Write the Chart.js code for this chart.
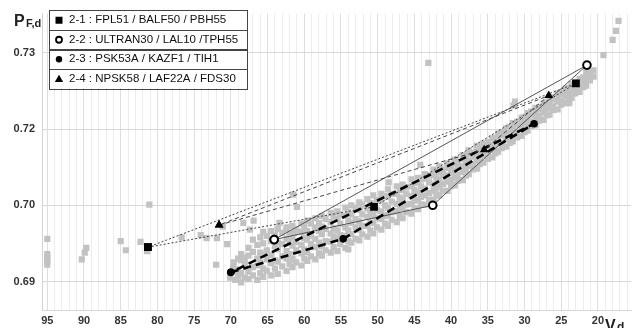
<!DOCTYPE html>
<html>
<head>
<meta charset="utf-8">
<script src="https://cdn.jsdelivr.net/npm/chart.js@4.4.1/dist/chart.umd.min.js"></script>
<style>
  html, body { margin: 0; padding: 0; background: #fff; }
</style>
</head>
<body>
<canvas id="chart" width="642" height="328"></canvas>
<script>
// ---- data ----
const groupNames = [
  '2-1 : FPL51 / BALF50 / PBH55',
  '2-2 : ULTRAN30 / LAL10 /TPH55',
  '2-3 : PSK53A / KAZF1 / TIH1',
  '2-4 : NPSK58 / LAF22A / FDS30'
];
const groupVd = [
  [81.3, 50.5, 23.0],
  [64.1, 42.5, 21.5],
  [70.0, 54.7, 28.7],
  [71.6, 35.5, 26.7]
];
const groupPF = [
  [0.6945, 0.6998, 0.7160],
  [0.6955, 0.7000, 0.7184],
  [0.6912, 0.6956, 0.7107],
  [0.6974, 0.7073, 0.7144]
];

// background glass map: one vd with the PF,d values seen above it
const grayVd = [
  95.0, 90.3, 89.9, 89.7, 85.0, 84.3, 82.3, 81.4, 81.1, 76.7, 74.1, 73.3,
  72.0, 71.9, 71.1, 70.5, 70.1, 69.7, 69.6, 68.3, 67.4, 66.9, 63.4, 62.4,
  61.3, 61.0, 61.5, 48.5, 44.2, 43.1, 31.3, 31.5, 23.9, 19.25, 18.0, 17.55, 17.2,
  69.4, 69.0, 68.6, 68.1, 67.6, 67.0, 66.4, 66.0, 65.6, 65.1, 64.5, 64.0,
  63.6, 63.0, 62.4, 62.0, 61.6, 61.1, 60.4, 60.0, 59.6, 59.1, 58.5, 58.0,
  57.6, 57.1, 56.4, 56.0, 55.5, 55.1, 54.4, 54.0, 53.6, 53.0, 52.5, 52.1,
  51.4, 51.0, 50.6, 50.1, 49.5, 49.0, 48.6, 48.1, 47.4, 47.0, 46.6, 46.1,
  45.4, 45.0, 44.5, 44.1, 43.6, 43.0, 42.4, 42.0, 41.6, 41.1, 40.5, 40.0,
  39.5, 39.1, 38.4, 38.0, 37.6, 37.0, 36.5, 36.1, 35.6, 35.0, 34.4, 34.0,
  33.6, 33.1, 32.5, 32.0, 31.6, 31.0, 30.4, 30.0, 29.6, 29.1, 28.5, 28.0,
  27.4, 27.0, 26.6, 26.1, 25.5, 25.0, 24.4, 24.0, 23.6, 23.1, 22.5, 22.0,
  21.6, 21.1, 20.6
];
const grayPF = [
  [0.6956, 0.6936, 0.6931, 0.6927, 0.6922], [0.6929], [0.6938], [0.6944], [0.6953], [0.6941],
  [0.6952], [0.6940], [0.7001], [0.6958], [0.6961], [0.6957],
  [0.6922], [0.6957], [0.6972], [0.6949], [0.6905], [0.6918], [0.6925], [0.6977], [0.6968], [0.6980],
  [0.6977], [0.6968], [0.6964], [0.6998], [0.7014], [0.7030], [0.7053], [0.7187],
  [0.7136], [0.7131], [0.7134], [0.7197], [0.7217], [0.7229], [0.7242],
  [0.6902, 0.6916], [0.6907, 0.6914, 0.6930], [0.6899, 0.6911, 0.6928, 0.6936],
  [0.6905, 0.6923, 0.6931], [0.6903, 0.6913, 0.6934, 0.6944], [0.6908, 0.6919, 0.6939, 0.6955],
  [0.6902, 0.6921, 0.6930, 0.6948], [0.6911, 0.6925, 0.6938, 0.6958], [0.6906, 0.6917, 0.6936, 0.6950, 0.6965],
  [0.6914, 0.6929, 0.6941, 0.6960], [0.6908, 0.6924, 0.6935, 0.6953, 0.6966], [0.6917, 0.6928, 0.6946, 0.6961],
  [0.6910, 0.6926, 0.6942, 0.6951, 0.6969], [0.6920, 0.6933, 0.6949, 0.6964], [0.6914, 0.6930, 0.6940, 0.6956, 0.6971],
  [0.6923, 0.6936, 0.6953, 0.6964], [0.6919, 0.6930, 0.6947, 0.6959, 0.6973], [0.6925, 0.6941, 0.6952, 0.6968],
  [0.6921, 0.6937, 0.6948, 0.6965, 0.6976], [0.6930, 0.6942, 0.6957, 0.6973], [0.6927, 0.6939, 0.6955, 0.6966, 0.6980],
  [0.6933, 0.6949, 0.6960, 0.6976], [0.6929, 0.6945, 0.6956, 0.6971, 0.6983], [0.6937, 0.6951, 0.6966, 0.6977],
  [0.6934, 0.6946, 0.6962, 0.6972, 0.6986], [0.6941, 0.6953, 0.6969, 0.6982], [0.6938, 0.6952, 0.6963, 0.6978, 0.6990],
  [0.6945, 0.6959, 0.6970, 0.6986], [0.6940, 0.6956, 0.6967, 0.6982, 0.6992], [0.6949, 0.6961, 0.6976, 0.6988],
  [0.6944, 0.6960, 0.6971, 0.6986, 0.6997], [0.6942, 0.6953, 0.6967, 0.6980, 0.6991], [0.6951, 0.6962, 0.6977, 0.6988, 0.7000],
  [0.6956, 0.6971, 0.6982, 0.6997], [0.6954, 0.6968, 0.6979, 0.6994, 0.7004], [0.6962, 0.6973, 0.6988, 0.7001],
  [0.6959, 0.6973, 0.6985, 0.6996, 0.7008], [0.6967, 0.6977, 0.6992, 0.7003], [0.6963, 0.6977, 0.6987, 0.7002, 0.7013],
  [0.6971, 0.6983, 0.6994, 0.7007], [0.6968, 0.6982, 0.6992, 0.7006, 0.7015], [0.6976, 0.6986, 0.7000, 0.7012],
  [0.6973, 0.6987, 0.6997, 0.7011, 0.7021], [0.6981, 0.6991, 0.7005, 0.7015], [0.6978, 0.6992, 0.7002, 0.7015, 0.7025],
  [0.6986, 0.6996, 0.7010, 0.7021], [0.6983, 0.6997, 0.7007, 0.7020, 0.7027], [0.6991, 0.7001, 0.7015, 0.7024],
  [0.6989, 0.7002, 0.7012, 0.7025, 0.7034], [0.6996, 0.7006, 0.7020, 0.7029], [0.6995, 0.7007, 0.7017, 0.7030, 0.7036],
  [0.7001, 0.7011, 0.7025, 0.7034], [0.7001, 0.7013, 0.7022, 0.7035, 0.7041], [0.7007, 0.7016, 0.7030, 0.7039],
  [0.7007, 0.7019, 0.7027, 0.7040, 0.7047], [0.7013, 0.7022, 0.7035, 0.7043], [0.7013, 0.7025, 0.7033, 0.7044, 0.7051],
  [0.7019, 0.7028, 0.7040, 0.7047], [0.7019, 0.7031, 0.7039, 0.7049, 0.7055], [0.7025, 0.7033, 0.7045, 0.7052],
  [0.7026, 0.7037, 0.7045, 0.7055, 0.7060], [0.7032, 0.7040, 0.7051, 0.7057], [0.7033, 0.7044, 0.7051, 0.7061, 0.7066],
  [0.7039, 0.7047, 0.7058, 0.7063], [0.7041, 0.7052, 0.7058, 0.7067, 0.7072], [0.7047, 0.7054, 0.7064, 0.7069],
  [0.7048, 0.7059, 0.7065, 0.7074, 0.7078], [0.7054, 0.7061, 0.7071, 0.7076], [0.7056, 0.7066, 0.7072, 0.7081],
  [0.7061, 0.7068, 0.7078, 0.7083], [0.7063, 0.7073, 0.7079, 0.7088], [0.7068, 0.7075, 0.7085, 0.7089],
  [0.7070, 0.7080, 0.7086, 0.7094], [0.7075, 0.7082, 0.7092, 0.7096], [0.7077, 0.7087, 0.7093, 0.7101],
  [0.7082, 0.7089, 0.7099, 0.7103], [0.7084, 0.7094, 0.7100, 0.7108], [0.7089, 0.7096, 0.7106, 0.7110],
  [0.7091, 0.7101, 0.7107, 0.7115], [0.7096, 0.7103, 0.7113, 0.7116], [0.7098, 0.7108, 0.7114, 0.7121],
  [0.7104, 0.7110, 0.7119, 0.7123], [0.7105, 0.7115, 0.7120, 0.7128], [0.7111, 0.7117, 0.7126, 0.7129],
  [0.7112, 0.7122, 0.7127, 0.7134], [0.7118, 0.7124, 0.7132, 0.7135], [0.7119, 0.7129, 0.7134, 0.7141],
  [0.7125, 0.7130, 0.7139, 0.7142], [0.7126, 0.7136, 0.7140, 0.7147], [0.7132, 0.7137, 0.7146, 0.7148],
  [0.7134, 0.7143, 0.7147, 0.7153], [0.7139, 0.7144, 0.7152, 0.7154], [0.7141, 0.7150, 0.7154, 0.7159],
  [0.7147, 0.7151, 0.7159, 0.7161], [0.7149, 0.7157, 0.7161, 0.7166], [0.7155, 0.7159, 0.7167, 0.7168],
  [0.7157, 0.7165, 0.7169, 0.7175], [0.7164, 0.7167, 0.7174], [0.7169, 0.7177]
];

const xTickLabels = [95, 90, 85, 80, 75, 70, 65, 60, 55, 50, 45, 40, 35, 30, 25, 20];
const yTickValues = [0.69, 0.70, 0.71, 0.72];
const yTickLabels = ['0.69', '0.70', '0.72', '0.73'];

// ---- styles ----
const FONT = '"Liberation Sans", Arial, sans-serif';
const groupStyles = [
  { pointStyle: 'rect', radius: 5.5, bg: '#000', border: '#000', bw: 0, lineWidth: 1, dash: [2, 2], lineColor: '#444' },
  { pointStyle: 'circle', radius: 3.8, bg: '#fff', border: '#000', bw: 2, lineWidth: 1, dash: [], lineColor: '#555' },
  { pointStyle: 'circle', radius: 3.8, bg: '#000', border: '#000', bw: 0, lineWidth: 2.6, dash: [8, 5], lineColor: '#000' },
  { pointStyle: 'triangle', radius: 5, bg: '#000', border: '#000', bw: 0, lineWidth: 1, dash: [4, 3], lineColor: '#444' }
];

const grayPoints = [];
grayVd.forEach((vd, i) => grayPF[i].forEach(pf => grayPoints.push({ x: vd, y: pf })));

const datasets = [{
  label: 'glass',
  data: grayPoints,
  pointStyle: 'rect',
  pointRadius: 4.4,
  pointHoverRadius: 4.4,
  backgroundColor: '#c2c2c2',
  borderWidth: 0,
  showLine: false,
  order: 10
}];

groupVd.forEach((vds, g) => {
  const s = groupStyles[g];
  const pts = vds.map((vd, i) => ({ x: vd, y: groupPF[g][i] }));
  pts.push(pts[0]);
  datasets.push({
    label: groupNames[g],
    data: pts,
    showLine: true,
    borderColor: s.lineColor,
    borderWidth: s.lineWidth,
    borderDash: s.dash,
    pointStyle: s.pointStyle,
    pointRadius: s.radius,
    pointHoverRadius: s.radius,
    pointBackgroundColor: s.bg,
    pointBorderColor: s.border,
    pointBorderWidth: s.bw,
    fill: false,
    order: 4 - g
  });
});

// titles + boxed legend
const overlay = {
  id: 'overlay',
  afterDraw(chart) {
    const ctx = chart.ctx;
    ctx.save();
    ctx.fillStyle = '#222';
    ctx.textAlign = 'left';
    ctx.textBaseline = 'alphabetic';
    ctx.font = 'bold 16px ' + FONT;
    ctx.fillText('P', 14, 26);
    ctx.font = 'bold 11px ' + FONT;
    ctx.fillText('F,d', 26, 27);
    ctx.font = 'bold 16px ' + FONT;
    ctx.fillText('V', 605, 331);
    ctx.font = 'bold 12px ' + FONT;
    ctx.fillText('d', 617, 331);

    const bx = 49, by = 10, bw = 198, rh = 19.5;
    ctx.fillStyle = '#fff';
    ctx.fillRect(bx, by, bw, rh * 4);
    ctx.strokeStyle = '#444';
    ctx.lineWidth = 1;
    ctx.setLineDash([]);
    for (let i = 0; i < 4; i++) {
      ctx.strokeRect(bx + 0.5, Math.round(by + i * rh) + 0.5, bw, Math.round(rh));
    }
    ctx.font = '11.5px ' + FONT;
    ctx.textBaseline = 'middle';
    groupNames.forEach((name, i) => {
      const cy = by + i * rh + rh / 2 + 0.5;
      const mx = 59;
      ctx.fillStyle = '#000';
      ctx.strokeStyle = '#000';
      ctx.beginPath();
      if (i === 0) {
        ctx.rect(mx - 3.5, cy - 3.5, 7, 7);
        ctx.fill();
      } else if (i === 1) {
        ctx.lineWidth = 1.8;
        ctx.arc(mx, cy, 3, 0, Math.PI * 2);
        ctx.stroke();
      } else if (i === 2) {
        ctx.arc(mx, cy, 3.2, 0, Math.PI * 2);
        ctx.fill();
      } else {
        ctx.moveTo(mx, cy - 4);
        ctx.lineTo(mx + 4.2, cy + 3.2);
        ctx.lineTo(mx - 4.2, cy + 3.2);
        ctx.closePath();
        ctx.fill();
      }
      ctx.fillStyle = '#111';
      ctx.fillText(name, 69, cy);
    });
    ctx.restore();
  }
};

new Chart(document.getElementById('chart'), {
  type: 'scatter',
  data: { datasets },
  options: {
    responsive: false,
    animation: false,
    devicePixelRatio: 1,
    layout: { padding: { left: 0, right: 11, top: 8, bottom: 0 } },
    plugins: { legend: { display: false }, tooltip: { enabled: false } },
    scales: {
      x: {
        type: 'linear',
        reverse: true,
        min: 15.5,
        max: 95.72,
        afterBuildTicks: (scale) => {
          const t = [];
          for (let v = 16; v <= 95; v++) t.push({ value: v });
          scale.ticks = t;
        },
        afterFit: (scale) => { scale.height = 18; },
        grid: {
          drawTicks: false,
          color: (c) => (c.tick && c.tick.value % 5 === 0) ? '#dedede' : '#ececec',
          lineWidth: 1
        },
        border: { display: true, color: '#d4d4d4' },
        ticks: {
          autoSkip: false,
          maxRotation: 0,
          padding: 4,
          color: '#333',
          font: { family: FONT, size: 11, weight: 'bold' },
          callback: (v) => xTickLabels.includes(v) ? String(v) : ''
        }
      },
      y: {
        type: 'linear',
        min: 0.68626,
        max: 0.72516,
        afterBuildTicks: (scale) => {
          scale.ticks = yTickValues.map(v => ({ value: v }));
        },
        afterFit: (scale) => { scale.width = 42; },
        grid: { drawTicks: false, color: '#d8d8d8', lineWidth: 1 },
        border: { display: true, color: '#d4d4d4' },
        ticks: {
          padding: 7,
          color: '#333',
          font: { family: FONT, size: 11, weight: 'bold' },
          callback: (v) => {
            const i = yTickValues.findIndex(t => Math.abs(t - v) < 1e-6);
            return i >= 0 ? yTickLabels[i] : '';
          }
        }
      }
    }
  },
  plugins: [overlay]
});
</script>
</body>
</html>
